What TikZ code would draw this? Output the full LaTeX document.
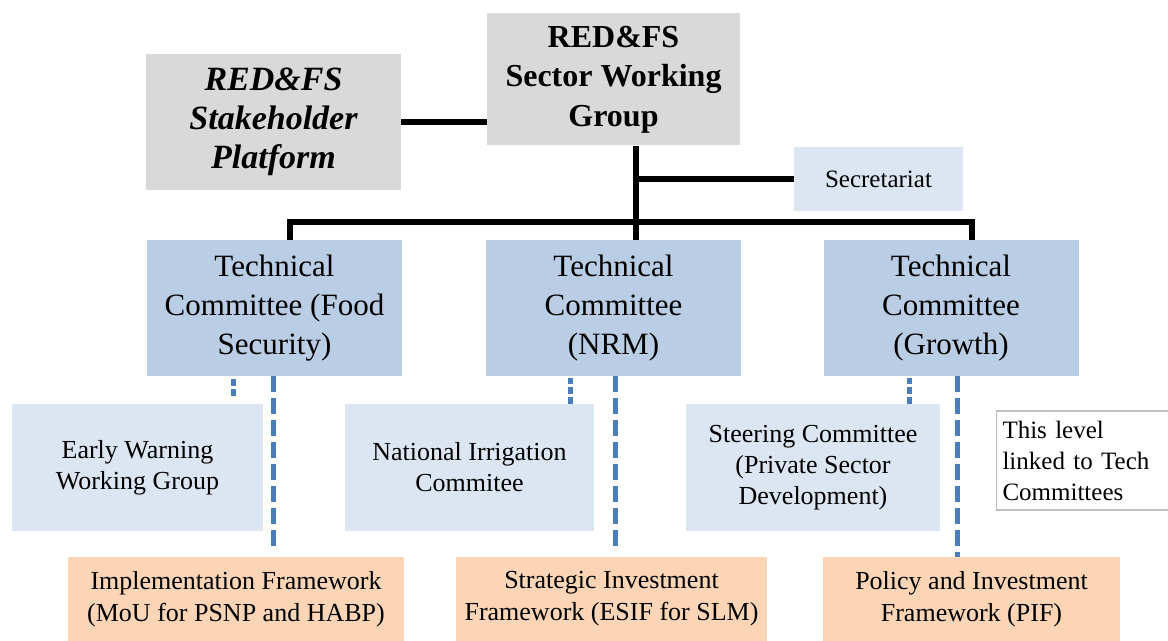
\documentclass[tikz,border=0pt]{standalone}
\usepackage{fontspec}
\setmainfont{Liberation Serif}
\definecolor{boxgray}{HTML}{D9D9D9}
\definecolor{paleblue}{HTML}{DCE6F2}
\definecolor{tcblue}{HTML}{B9CDE5}
\definecolor{peach}{HTML}{FBD5B5}
\definecolor{dashblue}{HTML}{4A7EBB}

\begin{document}
\begin{tikzpicture}[x=0.5pt, y=-0.5pt,
  box/.style = {minimum width=#1, inner sep=0pt, align=center},
  head/.style = {fill=boxgray, minimum height=66pt, font=\fontsize{16}{19.8}\selectfont\bfseries},
  tech/.style = {box=127.5pt, fill=tcblue, minimum height=68pt, font=\fontsize{15.5}{19.5}\selectfont},
  sub/.style = {fill=paleblue, minimum height=63.5pt, font=\fontsize{13}{15.5}\selectfont},
  frame/.style = {fill=peach, minimum height=42pt, font=\fontsize{13}{16}\selectfont},
  link/.style = {line width=2.6pt},
  linkdash/.style = {dashblue, line width=2.5pt, dash pattern=on 8pt off 3pt},
  linkdot/.style = {dashblue, line width=2.5pt, dash pattern=on 3.5pt off 1.5pt}]
\useasboundingbox (0,0) rectangle (1168,641);

\node[box=126.5pt, head] (swg) at (613.5,79.5) {RED\&FS\\Sector Working\\Group};
\node[box=127.5pt, head, minimum height=68pt, font=\fontsize{17}{19.5}\selectfont\bfseries\itshape] (stake) at (273.5,122) {RED\&FS\\Stakeholder\\Platform};
\node[box=84.5pt, fill=paleblue, minimum height=32pt, font=\fontsize{12.5}{14}\selectfont] (sec) at (878.5,179) {Secretariat};

\node[tech] (tcfood) at (274.5,308) {Technical\\Committee (Food\\Security)};
\node[tech] (tcnrm) at (613.5,308) {Technical\\Committee\\(NRM)};
\node[tech] (tcgrowth) at (951,308) {Technical\\Committee\\(Growth)};

\node[box=125.5pt, sub] (ewg) at (137.5,467.5) {Early Warning\\Working Group};
\node[box=124.5pt, sub] (nic) at (469.5,467.5) {National Irrigation\\Commitee};
\node[box=127pt, sub] (steer) at (813,467.5) {Steering Committee\\(Private Sector\\Development)};
\node[box=85.5pt, draw=black!25, line width=0.8pt, minimum height=49.5pt, align=left, text width=80pt, inner xsep=3pt,
  font=\fontsize{12.5}{15.5}\selectfont] (note) at (1082.5,460.5) {This level\\linked to Tech\\Committees};

\node[box=168pt, frame] (impl) at (236,599) {Implementation Framework\\(MoU for PSNP and HABP)};
\node[box=155.5pt, frame] (sif) at (611.5,599) {Strategic Investment\\Framework (ESIF for SLM)};
\node[box=148.5pt, frame] (pif) at (971.5,599) {Policy and Investment\\Framework (PIF)};

\coordinate (trunk) at ([xshift=11.25pt]swg.south);
\coordinate (bus) at (636,222);

\draw[link] (stake.east |- 0,122) -- (swg.west |- 0,122);
\draw[link] (trunk) -- (trunk |- tcnrm.north);
\draw[link] (sec.west) -- (sec.west -| trunk);
\draw[link] ([xshift=7.75pt]tcfood.north) |- (bus) -| ([xshift=10.5pt]tcgrowth.north);

\draw[linkdot, shorten <=4pt, shorten >=1pt] ([xshift=47.75pt]ewg.north) -- ([xshift=47.75pt]ewg.north |- tcfood.south);
\draw[linkdot, shorten >=1pt] ([xshift=50.25pt]nic.north) -- ([xshift=50.25pt]nic.north |- tcnrm.south);
\draw[linkdot, shorten >=1pt] ([xshift=48pt]steer.north) -- ([xshift=48pt]steer.north |- tcgrowth.south);

\draw[linkdash, shorten >=3pt] ([xshift=-0.75pt]tcfood.south) -- ([xshift=-0.75pt]tcfood.south |- impl.north);
\draw[linkdash, shorten >=3pt] ([xshift=0.75pt]tcnrm.south) -- ([xshift=0.75pt]tcnrm.south |- sif.north);
\draw[linkdash] ([xshift=3pt]tcgrowth.south) -- ([xshift=3pt]tcgrowth.south |- pif.north);
\end{tikzpicture}
\end{document}
